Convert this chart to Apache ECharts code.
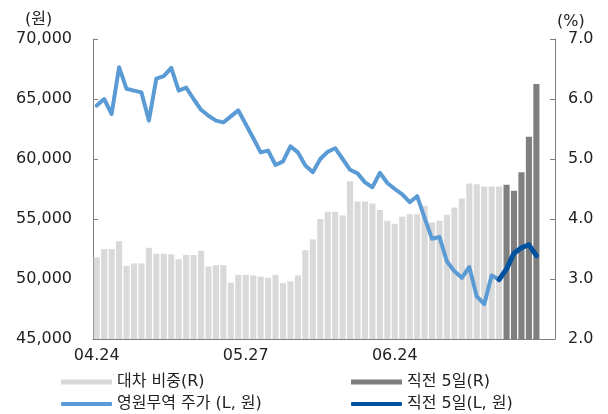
<html>
<head>
<meta charset="utf-8">
<style>
  html, body { margin: 0; padding: 0; background: #fff; }
  #chart { width: 608px; height: 414px; }
</style>
<script src="https://cdn.jsdelivr.net/npm/echarts@6/dist/echarts.min.js"></script>
</head>
<body>
<div id="chart"></div>
<script>
// 60 trading days, plus 2 empty slots at the right end of the axis
var tickLabels = ['04.24', '05.27', '06.24'];   // at day 0, 20, 40
var slotCount = 62;
var recentDays = 5;

// 대차 비중 (%), right axis
var loanRatio = [
  3.36, 3.50, 3.50, 3.63, 3.22, 3.26, 3.26, 3.52, 3.42, 3.42,
  3.41, 3.33, 3.40, 3.40, 3.47, 3.21, 3.23, 3.23, 2.94, 3.07,
  3.07, 3.06, 3.04, 3.02, 3.07, 2.93, 2.96, 3.06, 3.48, 3.66,
  4.00, 4.12, 4.12, 4.06, 4.63, 4.29, 4.29, 4.26, 4.15, 3.97,
  3.92, 4.04, 4.08, 4.08, 4.22, 3.94, 3.97, 4.07, 4.19, 4.34,
  4.59, 4.58, 4.54, 4.54, 4.54, 4.57, 4.47, 4.78, 5.37, 6.25
];

// 영원무역 주가 (원), left axis
var price = [
  64450, 65000, 63750, 67650, 65850, 65700, 65550, 63200, 66700, 66900,
  67600, 65700, 65950, 65000, 64100, 63600, 63200, 63050, 63550, 64050,
  62900, 61750, 60550, 60700, 59500, 59800, 61050, 60550, 59450, 58900,
  60000, 60600, 60900, 60000, 59100, 58800, 58050, 57650, 58850, 58000,
  57500, 57050, 56400, 56900, 55100, 53350, 53500, 51450, 50650, 50100,
  51000, 48550, 47900, 50300, 49950, 50850, 52150, 52600, 52850, 51950
];

var FONT = '"DejaVu Sans", "Noto Sans CJK KR", sans-serif';
var n = price.length;
var cut = n - recentDays;

var days = [];
for (var i = 0; i < slotCount; i++) days.push('d' + i);

var ratioOld = [], ratioNew = [], priceOld = [], priceNew = [];
for (var i = 0; i < slotCount; i++) {
  var r = i < n ? loanRatio[i] : null;
  var p = i < n ? price[i] : null;
  ratioOld.push(i < cut ? r : null);
  ratioNew.push(i >= cut ? r : null);
  priceOld.push(i < cut ? p : null);
  // connect the dark line to the last light point
  priceNew.push(i >= cut - 1 ? p : null);
}

var chart = echarts.init(document.getElementById('chart'));

function legendAt(name, left, top, isBar) {
  return {
    data: [{ name: name, icon: isBar ? 'rect' : 'roundRect' }],
    left: left,
    top: top,
    padding: 0,
    itemGap: 0,
    itemWidth: 51,
    itemHeight: isBar ? 5 : 4,
    textStyle: { fontSize: 16, color: '#222', fontFamily: FONT },
    selectedMode: false
  };
}

var option = {
  animation: false,
  textStyle: { fontFamily: FONT },
  grid: { left: 93, right: 53, top: 39, bottom: 75, containLabel: false },
  graphic: [
    { type: 'text', left: 25, top: 12, style: { text: '(원)', fill: '#222', font: '16px ' + FONT } },
    { type: 'text', left: 557, top: 14, style: { text: '(%)', fill: '#222', font: '16px ' + FONT } }
  ],
  legend: [
    legendAt('대차 비중(R)', 61, 374, true),
    legendAt('직전 5일(R)', 351, 374, true),
    legendAt('영원무역 주가 (L, 원)', 61, 396, false),
    legendAt('직전 5일(L, 원)', 351, 396, false)
  ],
  xAxis: {
    type: 'category',
    data: days,
    boundaryGap: true,
    axisLine: { lineStyle: { color: '#7f7f7f', width: 1 } },
    axisTick: {
      inside: true,
      length: 4,
      lineStyle: { color: '#7f7f7f' },
      interval: function (index) { return index === 20 || index === 40; }
    },
    axisLabel: {
      interval: 0,
      margin: 9,
      fontSize: 16,
      color: '#222',
      fontFamily: FONT,
      formatter: function (v, idx) {
        return idx % 20 === 0 && tickLabels[idx / 20] ? tickLabels[idx / 20] : '';
      }
    },
    splitLine: { show: false }
  },
  yAxis: [
    {
      type: 'value',
      min: 45000,
      max: 70000,
      interval: 5000,
      axisLine: { show: true, lineStyle: { color: '#7f7f7f' } },
      axisTick: { show: true, inside: true, length: 5, lineStyle: { color: '#7f7f7f' } },
      axisLabel: {
        margin: 21,
        fontSize: 16,
        color: '#222',
        fontFamily: FONT,
        formatter: function (v) { return v.toLocaleString('en-US'); }
      },
      splitLine: { show: false }
    },
    {
      type: 'value',
      min: 2,
      max: 7,
      interval: 1,
      position: 'right',
      axisLine: { show: true, lineStyle: { color: '#7f7f7f' } },
      axisTick: { show: true, inside: true, length: 5, lineStyle: { color: '#7f7f7f' } },
      axisLabel: {
        margin: 13,
        fontSize: 16,
        color: '#222',
        fontFamily: FONT,
        formatter: function (v) { return v.toFixed(1); }
      },
      splitLine: { show: false }
    }
  ],
  series: [
    {
      name: '대차 비중(R)',
      type: 'bar',
      yAxisIndex: 1,
      data: ratioOld,
      barCategoryGap: '18%',
      barGap: '-100%',
      itemStyle: { color: '#d9d9d9' }
    },
    {
      name: '직전 5일(R)',
      type: 'bar',
      yAxisIndex: 1,
      data: ratioNew,
      barCategoryGap: '18%',
      barGap: '-100%',
      itemStyle: { color: '#7f7f7f' }
    },
    {
      name: '영원무역 주가 (L, 원)',
      type: 'line',
      yAxisIndex: 0,
      data: priceOld,
      symbol: 'none',
      lineStyle: { color: '#5b9bd5', width: 4, cap: 'round', join: 'round' },
      itemStyle: { color: '#5b9bd5' },
      z: 3
    },
    {
      name: '직전 5일(L, 원)',
      type: 'line',
      yAxisIndex: 0,
      data: priceNew,
      symbol: 'none',
      lineStyle: { color: '#00519e', width: 5, cap: 'round', join: 'round' },
      itemStyle: { color: '#00519e' },
      z: 4
    }
  ]
};

chart.setOption(option);
</script>
</body>
</html>
